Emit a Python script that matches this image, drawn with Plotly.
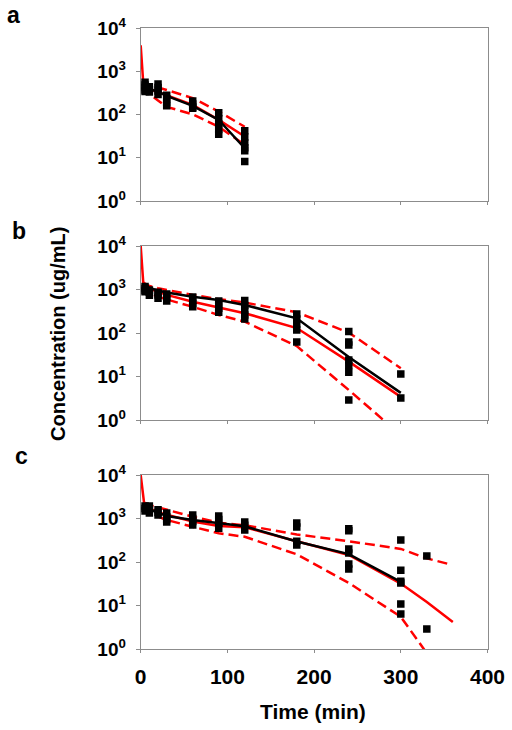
import plotly.graph_objects as go

# ---------------- data ----------------
tick_vals = [1, 10, 100, 1000, 10000]
tick_text = ["10<sup>0</sup>", "10<sup>1</sup>", "10<sup>2</sup>", "10<sup>3</sup>", "10<sup>4</sup>"]
x_ticks = [0, 100, 200, 300, 400]
panel_labels = ["a", "b", "c"]

# panel a - observed
a_obs_time = [5, 5, 5, 5, 5, 10, 10, 10, 20, 20, 20, 20, 30, 30, 30, 30,
              60, 60, 60, 60, 90, 90, 90, 90, 90, 120, 120, 120, 120, 120, 120]
a_obs_conc = [560, 480, 420, 370, 340, 440, 380, 330, 510, 420, 350, 290, 280, 230, 190, 160,
              205, 175, 150, 140, 110, 80, 60, 45, 35, 42, 30, 22, 17, 14.5, 8.2]
a_mean_time = [5, 10, 20, 30, 60, 90, 120]
a_mean_conc = [445, 380, 340, 270, 158, 75, 16.6]
a_med_time = [0, 3, 10, 20, 30, 60, 90, 120]
a_med_conc = [4000, 520, 390, 330, 283, 166, 75, 31]
a_ci_time = [3, 10, 20, 30, 60, 90, 120]
a_upper = [560, 470, 420, 370, 240, 117, 52]
a_lower = [440, 300, 210, 150, 101, 52, 20]

# panel b - observed
b_obs_time = [5, 5, 5, 5, 10, 10, 10, 20, 20, 20, 30, 30, 30,
              60, 60, 60, 60, 90, 90, 90, 90, 120, 120, 120, 120, 120,
              180, 180, 180, 180, 180, 240, 240, 240, 240, 240, 240, 240, 300, 300]
b_obs_conc = [1170, 1050, 950, 890, 980, 860, 740, 870, 750, 630, 790, 660, 545,
              670, 560, 470, 400, 545, 450, 370, 300, 560, 430, 330, 260, 210,
              275, 210, 160, 117, 62, 108, 62, 53, 24, 18, 12.6, 2.9, 11.4, 3.2]
b_mean_time = [5, 10, 20, 30, 60, 90, 120, 180, 240, 300]
b_mean_conc = [1260, 1080, 950, 850, 680, 575, 440, 218, 28, 4.2]
b_med_time = [0, 3, 10, 20, 30, 60, 90, 120, 180, 240, 300]
b_med_conc = [10000, 1400, 1050, 880, 750, 525, 390, 285, 130, 22, 3.4]
b_ci_time = [3, 10, 20, 30, 60, 90, 120, 180, 240, 300]
b_upper = [1450, 1200, 1070, 970, 750, 600, 500, 300, 102, 15.5]
b_lower = [1250, 815, 690, 590, 400, 260, 182, 50, 4.9, 0.45]

# panel c - observed
c_obs_time = [5, 5, 5, 10, 10, 10, 20, 20, 20, 30, 30, 30, 30,
              60, 60, 60, 60, 90, 90, 90, 90, 120, 120, 120,
              180, 180, 180, 180, 240, 240, 240, 240, 240, 240,
              300, 300, 300, 300, 300, 300, 330, 330]
c_obs_conc = [1950, 1700, 1480, 1950, 1600, 1340, 1580, 1380, 1200, 1340, 1100, 950, 830,
              1200, 1000, 850, 710, 1140, 950, 780, 600, 830, 700, 545,
              790, 640, 300, 245, 580, 520, 200, 160, 90, 69,
              320, 65, 36, 33, 10.8, 6.4, 137, 2.9]
c_mean_time = [5, 10, 20, 30, 60, 90, 120, 180, 240, 300]
c_mean_conc = [1870, 1620, 1360, 1140, 925, 775, 660, 295, 152, 35]
c_med_time = [0, 4, 10, 20, 30, 60, 90, 120, 180, 240, 300, 330, 360]
c_med_conc = [10000, 2200, 1700, 1400, 1220, 850, 675, 630, 300, 145, 32, 12, 4.2]
c_up_time = [4, 10, 20, 30, 60, 90, 120, 180, 240, 300, 330, 355]
c_upper = [2300, 2040, 1800, 1580, 1100, 800, 700, 430, 300, 200, 121, 90]
c_lo_time = [4, 10, 20, 30, 60, 90, 120, 180, 240, 300, 330]
c_lower = [1800, 1320, 1100, 925, 645, 457, 380, 150, 33, 5.5, 0.8]

# ---------------- figure ----------------
W, H = 512, 730
RED = "#FF0000"
FONT = "Liberation Sans, Arial, sans-serif"
GRAY = "#8c8c8c"

x_dom = [140.7 / W, 487.5 / W]
panel_px = [(28, 201), (246, 420), (475, 649)]  # top, bottom pixel rows

fig = go.Figure()

panels = [
    (a_obs_time, a_obs_conc, a_mean_time, a_mean_conc, a_med_time, a_med_conc,
     a_ci_time, a_upper, a_ci_time, a_lower),
    (b_obs_time, b_obs_conc, b_mean_time, b_mean_conc, b_med_time, b_med_conc,
     b_ci_time, b_upper, b_ci_time, b_lower),
    (c_obs_time, c_obs_conc, c_mean_time, c_mean_conc, c_med_time, c_med_conc,
     c_up_time, c_upper, c_lo_time, c_lower),
]

for i, (ot, oc, mt, mc, pt, pc, ut, uc, lt, lc) in enumerate(panels):
    xa = "x" if i == 0 else f"x{i+1}"
    ya = "y" if i == 0 else f"y{i+1}"
    dash = "10px,5px"
    fig.add_trace(go.Scatter(x=ut, y=uc, mode="lines", xaxis=xa, yaxis=ya,
                             line=dict(color=RED, width=2.5, dash=dash), showlegend=False))
    fig.add_trace(go.Scatter(x=lt, y=lc, mode="lines", xaxis=xa, yaxis=ya,
                             line=dict(color=RED, width=2.5, dash=dash), showlegend=False))
    fig.add_trace(go.Scatter(x=pt, y=pc, mode="lines", xaxis=xa, yaxis=ya,
                             line=dict(color=RED, width=2.5), showlegend=False))
    fig.add_trace(go.Scatter(x=mt, y=mc, mode="lines", xaxis=xa, yaxis=ya,
                             line=dict(color="black", width=2.5), showlegend=False))
    fig.add_trace(go.Scatter(x=ot, y=oc, mode="markers", xaxis=xa, yaxis=ya,
                             marker=dict(symbol="square", size=7.5, color="black"),
                             showlegend=False))

layout = dict(
    width=W, height=H,
    margin=dict(l=0, r=0, t=0, b=0),
    paper_bgcolor="white", plot_bgcolor="white",
    template="none",
    showlegend=False,
)
for i, (top, bot) in enumerate(panel_px):
    xkey = "xaxis" if i == 0 else f"xaxis{i+1}"
    ykey = "yaxis" if i == 0 else f"yaxis{i+1}"
    ya = "y" if i == 0 else f"y{i+1}"
    xa = "x" if i == 0 else f"x{i+1}"
    layout[xkey] = dict(
        domain=x_dom, anchor=ya, range=[0, 400], tickvals=x_ticks,
        showticklabels=(i == 2), ticks="outside", ticklen=3, tickcolor=GRAY,
        showline=True, linecolor=GRAY, linewidth=1, mirror=True,
        showgrid=False, zeroline=False, automargin=False, ticklabelstandoff=6,
        tickfont=dict(family=FONT, size=21, color="black", weight="bold"),
    )
    layout[ykey] = dict(
        domain=[1 - bot / H, 1 - top / H], anchor=xa, type="log", range=[0, 4],
        tickvals=tick_vals, ticktext=tick_text,
        ticks="outside", ticklen=4, tickcolor=GRAY,
        showline=True, linecolor=GRAY, linewidth=1, mirror=True,
        showgrid=False, zeroline=False, automargin=False, ticklabelstandoff=6,
        tickfont=dict(family=FONT, size=19, color="black", weight="bold"),
    )
fig.update_layout(**layout)

ann = []
label_pos = [(13.5, 15), (18.5, 231), (21, 456)]
for lab, (px, py) in zip(panel_labels, label_pos):
    ann.append(dict(text=f"<b>{lab}</b>", x=px / W, y=1 - py / H, xref="paper", yref="paper",
                    showarrow=False, xanchor="center", yanchor="middle",
                    font=dict(family=FONT, size=23, color="black")))
ann.append(dict(text="<b>Concentration (ug/mL)</b>", x=58 / W, y=1 - 334 / H,
                xref="paper", yref="paper", showarrow=False, textangle=-90,
                xanchor="center", yanchor="middle",
                font=dict(family=FONT, size=20, color="black")))
ann.append(dict(text="<b>Time (min)</b>", x=313 / W, y=1 - 711 / H,
                xref="paper", yref="paper", showarrow=False,
                xanchor="center", yanchor="middle",
                font=dict(family=FONT, size=21, color="black")))
fig.update_layout(annotations=ann)

fig.write_html("out.html", config={"displayModeBar": False},
               post_script="document.body.style.margin='0';document.body.style.padding='0';document.body.style.overflow='hidden';")
